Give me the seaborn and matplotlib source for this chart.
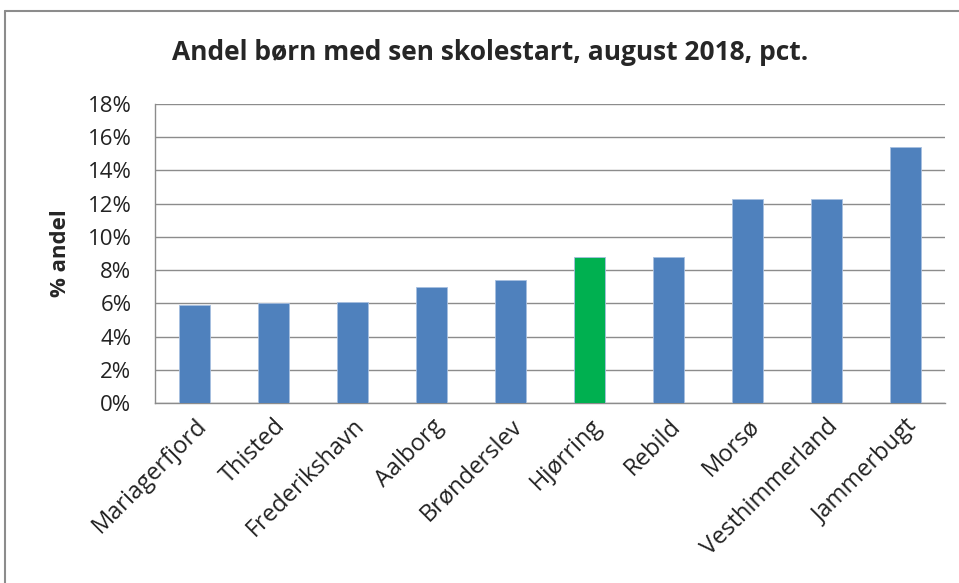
import pandas as pd
import matplotlib.pyplot as plt
import seaborn as sns
from matplotlib.ticker import FuncFormatter
from matplotlib.lines import Line2D

# Data
municipalities = ['Mariagerfjord', 'Thisted', 'Frederikshavn', 'Aalborg', 'Brønderslev',
                  'Hjørring', 'Rebild', 'Morsø', 'Vesthimmerland', 'Jammerbugt']
share_pct = [5.9, 6.0, 6.1, 7.0, 7.4, 8.8, 8.8, 12.3, 12.3, 15.4]
highlight = 'Hjørring'

df = pd.DataFrame({'kommune': municipalities, 'andel': share_pct})
palette = {m: ('#00B050' if m == highlight else '#4F81BD') for m in municipalities}

sns.set_theme(style="white")
plt.rcParams['font.family'] = ['Open Sans', 'DejaVu Sans']

fig = plt.figure(figsize=(9.59, 5.83), dpi=100)
ax = fig.add_axes([155 / 959, 1 - 403 / 583, 790 / 959, 299 / 583])

sns.barplot(data=df, x='kommune', y='andel', hue='kommune', palette=palette, saturation=1,
            width=0.4, legend=False, ax=ax, edgecolor='#A7BFE0', linewidth=0.6, zorder=3)

ax.set_ylim(0, 18)
ax.set_yticks(range(0, 19, 2))
ax.yaxis.set_major_formatter(FuncFormatter(lambda v, _: f'{v:.0f}%'))
ax.grid(axis='y', color='#8C8C8C', linewidth=1, zorder=0)
ax.set_axisbelow(True)

for side in ['top', 'right']:
    ax.spines[side].set_visible(False)
for side in ['left', 'bottom']:
    ax.spines[side].set_color('#8C8C8C')
    ax.spines[side].set_linewidth(1)

ax.tick_params(axis='y', labelsize=16, pad=17, length=0, colors='#222222')
ax.tick_params(axis='x', labelsize=17, pad=8, length=0, colors='#222222')
plt.setp(ax.get_xticklabels(), rotation=45, ha='right', rotation_mode='anchor')

ax.set_xlabel('')
ax.set_ylabel('% andel', fontsize=16, fontweight='bold', labelpad=12)

fig.suptitle('Andel børn med sen skolestart, august 2018, pct.',
             x=490 / 959, y=1 - 52 / 583, va='center', fontsize=19, fontweight='bold')

# Frame of the chart object (left and top edges visible)
fig.add_artist(Line2D([5 / 959, 5 / 959], [0, 1 - 11 / 583], transform=fig.transFigure,
                      color='#8C8C8C', linewidth=1.5))
fig.add_artist(Line2D([5 / 959, 1], [1 - 11 / 583, 1 - 11 / 583], transform=fig.transFigure,
                      color='#8C8C8C', linewidth=1.5))

fig.savefig('out.png', dpi=100, facecolor='white')
